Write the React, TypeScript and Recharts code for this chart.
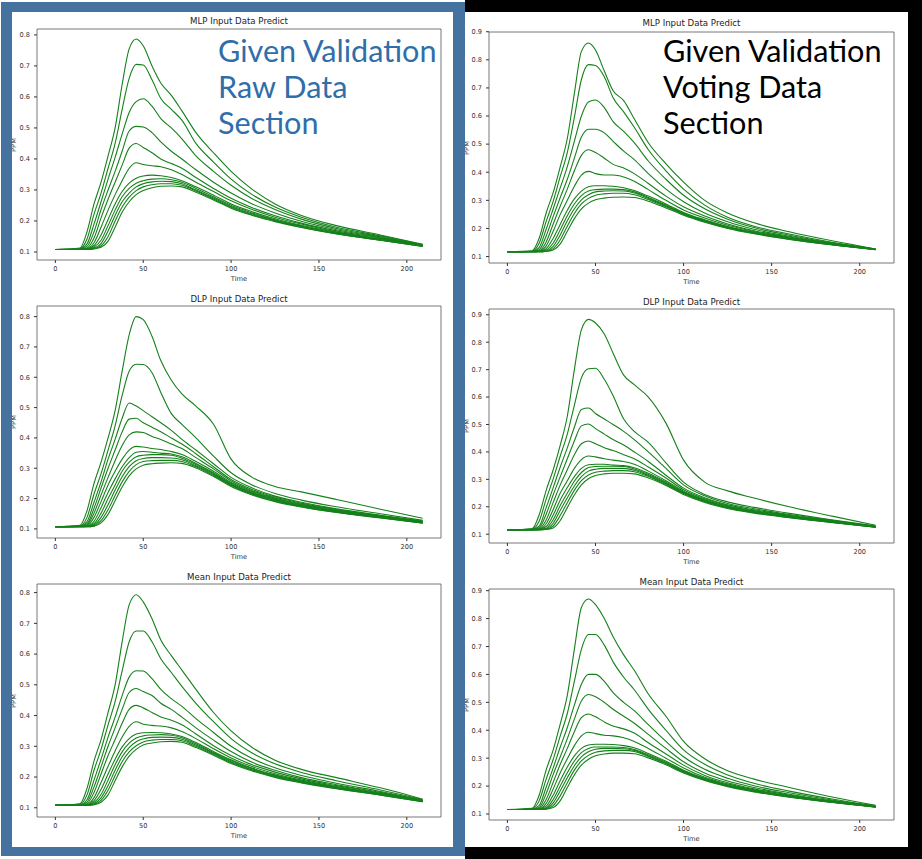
import { LineChart, Line, XAxis, YAxis, ReferenceArea } from "recharts"

const times = [0, 14, 18, 22, 26, 30, 34, 38, 42, 46, 50, 55, 60, 66, 72, 80, 90, 100, 112, 125, 140, 160, 185, 209]
const xTicks = [0, 50, 100, 150, 200]
const rawTicks = [0.1, 0.2, 0.3, 0.4, 0.5, 0.6, 0.7, 0.8]
const votingTicks = [0.1, 0.2, 0.3, 0.4, 0.5, 0.6, 0.7, 0.8, 0.9]

const mlpRaw = [
  [.108, .113, .165, .255, .325, .41, .50, .64, .755, .787, .765, .70, .645, .605, .555, .485, .42, .36, .302, .255, .218, .185, .155, .125],
  [.108, .111, .142, .222, .29, .37, .45, .56, .66, .705, .703, .655, .595, .56, .525, .45, .39, .335, .285, .245, .212, .18, .152, .124],
  [.108, .110, .126, .19, .262, .335, .405, .48, .55, .585, .594, .57, .53, .5, .465, .41, .36, .315, .272, .237, .206, .176, .149, .123],
  [.108, .109, .118, .165, .237, .30, .36, .425, .49, .505, .503, .485, .455, .425, .40, .365, .325, .29, .255, .226, .199, .172, .147, .122],
  [.108, .109, .113, .145, .21, .27, .325, .38, .435, .45, .437, .42, .40, .385, .37, .34, .305, .273, .243, .217, .193, .168, .145, .121],
  [.108, .108, .111, .13, .18, .235, .285, .33, .37, .388, .382, .378, .375, .365, .35, .325, .295, .265, .237, .212, .19, .165, .143, .121],
  [.108, .108, .110, .121, .155, .205, .255, .295, .322, .338, .345, .348, .346, .34, .33, .31, .283, .255, .23, .207, .186, .163, .141, .12],
  [.108, .108, .109, .116, .138, .185, .235, .278, .305, .322, .33, .335, .336, .333, .325, .305, .278, .251, .226, .204, .184, .161, .14, .12],
  [.108, .108, .109, .113, .127, .168, .218, .262, .29, .31, .32, .326, .328, .327, .32, .30, .274, .247, .223, .202, .182, .16, .139, .119],
  [.108, .108, .108, .111, .12, .15, .2, .245, .277, .298, .31, .317, .32, .32, .315, .297, .271, .244, .22, .2, .18, .159, .138, .119],
  [.108, .108, .108, .11, .115, .135, .18, .228, .262, .285, .298, .307, .312, .313, .31, .293, .268, .241, .218, .198, .179, .158, .138, .118],
]

const dlpRaw = [
  [.107, .112, .16, .25, .32, .40, .49, .62, .74, .80, .79, .735, .655, .59, .545, .505, .445, .33, .27, .24, .222, .197, .165, .135],
  [.107, .11, .138, .215, .282, .36, .44, .54, .62, .643, .642, .615, .55, .48, .445, .40, .34, .285, .245, .217, .195, .173, .15, .128],
  [.107, .109, .124, .188, .255, .33, .395, .465, .515, .505, .49, .47, .45, .425, .395, .36, .315, .27, .235, .208, .188, .166, .145, .126],
  [.107, .109, .117, .168, .235, .30, .36, .42, .462, .465, .45, .435, .42, .40, .38, .348, .305, .263, .23, .205, .185, .164, .143, .125],
  [.107, .108, .113, .152, .212, .27, .325, .375, .41, .42, .418, .405, .395, .38, .365, .335, .298, .258, .226, .202, .182, .162, .142, .124],
  [.107, .108, .11, .138, .19, .245, .29, .33, .36, .372, .37, .365, .362, .355, .345, .322, .29, .253, .223, .2, .18, .16, .141, .123],
  [.107, .108, .109, .125, .17, .22, .265, .305, .335, .353, .355, .353, .35, .347, .338, .316, .285, .25, .22, .198, .178, .158, .14, .122],
  [.107, .107, .108, .117, .152, .2, .245, .29, .32, .338, .343, .345, .345, .343, .333, .312, .282, .247, .218, .196, .176, .157, .139, .121],
  [.107, .107, .108, .113, .138, .18, .228, .272, .305, .325, .332, .335, .335, .334, .328, .308, .279, .245, .216, .194, .175, .156, .138, .12],
  [.107, .107, .107, .11, .127, .163, .21, .255, .29, .312, .322, .325, .326, .326, .322, .305, .276, .243, .214, .192, .173, .155, .137, .12],
  [.107, .107, .107, .109, .12, .148, .193, .238, .275, .298, .31, .315, .317, .318, .316, .301, .273, .24, .212, .19, .172, .154, .136, .119],
]

const meanRaw = [
  [.108, .113, .163, .252, .322, .41, .50, .64, .76, .793, .77, .715, .646, .595, .548, .485, .41, .35, .296, .255, .225, .198, .165, .128],
  [.108, .111, .142, .222, .29, .37, .445, .545, .64, .675, .675, .64, .585, .54, .495, .44, .38, .325, .278, .243, .215, .188, .158, .127],
  [.108, .11, .126, .19, .258, .33, .395, .465, .525, .546, .545, .52, .485, .455, .43, .39, .345, .3, .26, .23, .205, .18, .153, .125],
  [.108, .109, .118, .168, .233, .30, .36, .42, .475, .488, .478, .465, .44, .42, .395, .36, .32, .283, .248, .222, .198, .175, .15, .124],
  [.108, .109, .113, .15, .21, .27, .322, .375, .42, .433, .425, .41, .395, .385, .37, .34, .302, .27, .24, .216, .194, .172, .148, .123],
  [.108, .108, .11, .133, .182, .235, .285, .33, .365, .38, .372, .368, .366, .36, .348, .325, .292, .262, .234, .211, .19, .169, .146, .122],
  [.108, .108, .109, .123, .16, .21, .258, .298, .325, .34, .344, .345, .344, .34, .332, .312, .283, .256, .229, .207, .187, .167, .145, .122],
  [.108, .108, .109, .117, .143, .19, .24, .282, .31, .327, .334, .337, .338, .336, .328, .308, .28, .253, .227, .205, .186, .166, .144, .121],
  [.108, .108, .108, .113, .132, .172, .222, .266, .296, .315, .324, .329, .33, .329, .323, .304, .277, .25, .224, .203, .184, .164, .143, .121],
  [.108, .108, .108, .111, .124, .157, .205, .25, .282, .302, .314, .32, .322, .322, .318, .3, .274, .247, .222, .201, .182, .163, .142, .12],
  [.108, .108, .108, .11, .118, .142, .188, .233, .268, .29, .304, .311, .315, .316, .313, .296, .271, .244, .22, .199, .181, .162, .141, .12],
]

const mlpVoting = [
  [.117, .12, .165, .255, .328, .42, .52, .68, .83, .86, .835, .76, .69, .655, .59, .505, .43, .365, .30, .255, .22, .188, .155, .127],
  [.117, .119, .147, .225, .297, .385, .47, .595, .73, .783, .78, .74, .665, .615, .56, .48, .405, .34, .283, .24, .208, .18, .15, .127],
  [.117, .118, .132, .197, .27, .345, .42, .51, .6, .65, .657, .63, .58, .545, .505, .44, .375, .318, .27, .233, .203, .176, .148, .127],
  [.117, .118, .124, .173, .243, .31, .375, .45, .525, .553, .553, .54, .51, .475, .445, .395, .34, .295, .255, .224, .197, .172, .146, .126],
  [.117, .118, .12, .152, .216, .28, .34, .405, .46, .48, .47, .45, .428, .415, .395, .36, .315, .277, .244, .216, .192, .169, .145, .126],
  [.117, .117, .119, .138, .19, .25, .3, .35, .39, .403, .395, .39, .39, .383, .368, .338, .3, .266, .237, .211, .189, .167, .144, .126],
  [.117, .117, .118, .128, .165, .215, .265, .305, .333, .348, .352, .352, .35, .345, .335, .315, .287, .257, .231, .207, .186, .165, .143, .125],
  [.117, .117, .118, .123, .148, .195, .245, .287, .317, .333, .338, .34, .34, .338, .33, .31, .283, .254, .228, .205, .185, .164, .142, .125],
  [.117, .117, .117, .12, .136, .177, .227, .27, .302, .32, .33, .333, .334, .333, .326, .307, .28, .252, .226, .204, .184, .163, .142, .125],
  [.117, .117, .117, .119, .128, .16, .208, .253, .287, .307, .318, .323, .325, .325, .32, .303, .277, .25, .224, .202, .183, .162, .141, .124],
  [.117, .117, .117, .118, .123, .145, .19, .235, .27, .29, .302, .308, .311, .312, .31, .297, .273, .247, .222, .2, .181, .161, .141, .124],
]

const dlpVoting = [
  [.116, .12, .17, .26, .335, .425, .53, .70, .845, .883, .87, .83, .76, .68, .645, .60, .505, .37, .29, .258, .232, .2, .165, .133],
  [.116, .119, .147, .228, .302, .385, .465, .57, .67, .703, .705, .665, .605, .52, .475, .435, .36, .29, .245, .218, .198, .176, .152, .13],
  [.116, .118, .129, .197, .27, .345, .415, .49, .555, .56, .54, .52, .5, .475, .445, .4, .34, .28, .24, .212, .193, .172, .15, .129],
  [.116, .118, .124, .173, .244, .31, .375, .44, .495, .502, .485, .465, .445, .425, .4, .365, .315, .268, .233, .207, .189, .169, .148, .128],
  [.116, .117, .12, .152, .216, .28, .335, .39, .43, .44, .43, .415, .405, .39, .375, .345, .305, .262, .229, .204, .186, .167, .147, .128],
  [.116, .117, .118, .138, .19, .25, .295, .34, .372, .385, .382, .375, .37, .365, .355, .33, .295, .257, .226, .202, .184, .165, .146, .127],
  [.116, .117, .118, .128, .17, .225, .27, .31, .34, .353, .355, .355, .352, .35, .342, .322, .29, .254, .224, .2, .182, .164, .145, .127],
  [.116, .116, .117, .122, .153, .205, .25, .293, .325, .343, .347, .348, .348, .347, .338, .318, .287, .252, .222, .199, .181, .163, .144, .126],
  [.116, .116, .117, .12, .14, .187, .233, .276, .31, .33, .337, .34, .34, .34, .333, .314, .284, .25, .22, .197, .18, .162, .143, .126],
  [.116, .116, .116, .118, .13, .168, .215, .26, .295, .316, .326, .33, .332, .332, .328, .31, .281, .248, .218, .196, .179, .161, .143, .126],
  [.116, .116, .116, .117, .123, .15, .197, .243, .28, .302, .314, .32, .322, .322, .32, .305, .278, .245, .216, .194, .177, .16, .142, .125],
]

const meanVoting = [
  [.116, .12, .167, .258, .33, .423, .525, .69, .84, .87, .85, .80, .735, .67, .615, .53, .45, .36, .298, .255, .225, .195, .16, .131],
  [.116, .119, .147, .225, .296, .38, .46, .575, .69, .743, .743, .705, .645, .59, .545, .475, .4, .33, .278, .24, .21, .182, .153, .129],
  [.116, .118, .13, .196, .265, .34, .41, .49, .565, .6, .6, .575, .535, .5, .47, .42, .36, .305, .26, .228, .201, .176, .149, .128],
  [.116, .118, .123, .173, .242, .305, .37, .44, .505, .528, .52, .5, .475, .45, .425, .385, .335, .287, .247, .218, .195, .171, .147, .127],
  [.116, .117, .12, .152, .214, .278, .335, .395, .445, .458, .448, .43, .415, .405, .39, .355, .315, .275, .238, .212, .19, .168, .145, .127],
  [.116, .117, .118, .138, .19, .248, .298, .345, .38, .393, .388, .382, .38, .373, .36, .335, .3, .265, .232, .208, .187, .166, .144, .126],
  [.116, .117, .118, .128, .168, .22, .268, .308, .335, .347, .35, .35, .349, .345, .337, .317, .289, .257, .228, .205, .185, .164, .143, .126],
  [.116, .116, .117, .122, .152, .2, .248, .29, .32, .335, .34, .34, .34, .338, .331, .312, .285, .254, .226, .203, .183, .163, .142, .125],
  [.116, .116, .117, .12, .14, .183, .23, .273, .305, .323, .332, .335, .335, .334, .328, .309, .282, .252, .224, .201, .182, .162, .142, .125],
  [.116, .116, .116, .118, .13, .165, .212, .257, .29, .31, .321, .326, .328, .328, .324, .306, .28, .25, .222, .2, .181, .161, .141, .125],
  [.116, .116, .116, .117, .123, .148, .195, .24, .275, .296, .309, .315, .318, .318, .316, .301, .276, .247, .22, .198, .179, .16, .141, .124],
]

const X_DOMAIN: [number, number] = [-10.45, 219.45]
const LINE = "#15801a"
const TXT = "#333"
const FONT = "'DejaVu Sans', sans-serif"

function toRows(curves: number[][]) {
  return times.map((t, i) => {
    const row: Record<string, number> = { t }
    curves.forEach((c, k) => {
      row["c" + k] = c[i]
    })
    return row
  })
}

interface PanelProps {
  title: string
  curves: number[][]
  left: number
  top: number
  width: number
  height: number
  yDomain: [number, number]
  yTicks: number[]
  titleY: number
  ylabelX: number
}

function Panel({ title, curves, left, top, width, height, yDomain, yTicks, titleY, ylabelX }: PanelProps) {
  const padL = 40
  const padT = 10
  const padR = 10
  const axisH = 30
  const rows = toRows(curves)
  return (
    <>
      <div
        style={{
          position: "absolute",
          left,
          top: titleY - 6,
          width,
          textAlign: "center",
          fontFamily: FONT,
          fontSize: 8.6,
          lineHeight: "12px",
          color: "#222",
        }}
      >
        {title}
      </div>
      <div
        style={{
          position: "absolute",
          left: ylabelX - 15,
          top: top + height / 2 - 5,
          width: 30,
          height: 10,
          lineHeight: "10px",
          textAlign: "center",
          fontFamily: FONT,
          fontSize: 6.7,
          color: TXT,
          transform: "rotate(-90deg)",
        }}
      >
        PPM
      </div>
      <div style={{ position: "absolute", left: left - padL, top: top - padT }}>
        <LineChart
          width={width + padL + padR}
          height={height + padT + axisH}
          data={rows}
          margin={{ top: padT, right: padR, left: 0, bottom: 0 }}
        >
          <XAxis
            dataKey="t"
            type="number"
            domain={X_DOMAIN}
            allowDataOverflow
            ticks={xTicks}
            height={axisH}
            axisLine={false}
            tickSize={3}
            tickMargin={3}
            stroke={TXT}
            tick={{ fontSize: 6.6, fill: TXT, fontFamily: FONT }}
            label={{ value: "Time", position: "insideBottom", offset: 9.5, fontSize: 6.7, fill: TXT, fontFamily: FONT }}
          />
          <YAxis
            type="number"
            domain={yDomain}
            allowDataOverflow
            ticks={yTicks}
            width={padL}
            axisLine={false}
            tickSize={3}
            tickMargin={4}
            stroke={TXT}
            tick={{ fontSize: 6.6, fill: TXT, fontFamily: FONT }}
            tickFormatter={(v: number) => v.toFixed(1)}
          />
          {curves.map((_, k) => (
            <Line
              key={k}
              dataKey={"c" + k}
              type="monotone"
              dot={false}
              stroke={LINE}
              strokeWidth={1.1}
              isAnimationActive={false}
            />
          ))}
          <ReferenceArea
            x1={X_DOMAIN[0]}
            x2={X_DOMAIN[1]}
            y1={yDomain[0]}
            y2={yDomain[1]}
            fill="none"
            stroke="#555"
            strokeWidth={0.8}
            ifOverflow="visible"
          />
        </LineChart>
      </div>
    </>
  )
}

function Overlay({ left, color, lines }: { left: number; color: string; lines: string[] }) {
  return (
    <div
      style={{
        position: "absolute",
        left,
        top: 33,
        fontFamily: "Lato, sans-serif",
        fontSize: 30.6,
        lineHeight: "36px",
        color,
        whiteSpace: "nowrap",
      }}
    >
      {lines.map((l) => (
        <div key={l}>{l}</div>
      ))}
    </div>
  )
}

export default function App() {
  return (
    <div style={{ position: "absolute", left: 0, top: 0, width: 922, height: 859, background: "#fff", overflow: "hidden" }}>
      <Panel title="MLP Input Data Predict" curves={mlpRaw} left={37} top={29} width={404} height={231} yDomain={[0.0742, 0.819]} yTicks={rawTicks} titleY={20.7} ylabelX={13.5} />
      <Panel title="DLP Input Data Predict" curves={dlpRaw} left={37} top={306} width={404} height={232} yDomain={[0.070, 0.835]} yTicks={rawTicks} titleY={299} ylabelX={13.5} />
      <Panel title="Mean Input Data Predict" curves={meanRaw} left={37} top={584} width={404} height={233} yDomain={[0.070, 0.828]} yTicks={rawTicks} titleY={577.3} ylabelX={13.5} />
      <Panel title="MLP Input Data Predict" curves={mlpVoting} left={489} top={32} width={405} height={231} yDomain={[0.077, 0.899]} yTicks={votingTicks} titleY={23.3} ylabelX={467} />
      <Panel title="DLP Input Data Predict" curves={dlpVoting} left={489} top={309} width={405} height={234} yDomain={[0.068, 0.921]} yTicks={votingTicks} titleY={301.7} ylabelX={467} />
      <Panel title="Mean Input Data Predict" curves={meanVoting} left={489} top={589} width={405} height={231} yDomain={[0.0785, 0.906]} yTicks={votingTicks} titleY={581.7} ylabelX={467} />

      <Overlay left={218} color="#2f6ea9" lines={["Given Validation", "Raw Data", "Section"]} />
      <Overlay left={663} color="#000" lines={["Given Validation", "Voting Data", "Section"]} />

      {/* frames */}
      <div
        style={{
          position: "absolute",
          left: 465,
          top: 0,
          width: 457,
          height: 859,
          boxSizing: "border-box",
          borderStyle: "solid",
          borderColor: "#000",
          borderWidth: "12px 14px 12px 0",
        }}
      />
      <div
        style={{
          position: "absolute",
          left: 1,
          top: 2,
          width: 464,
          height: 854,
          boxSizing: "border-box",
          borderStyle: "solid",
          borderColor: "#45729f",
          borderWidth: "10px 12px 9px 11px",
        }}
      />
    </div>
  )
}
